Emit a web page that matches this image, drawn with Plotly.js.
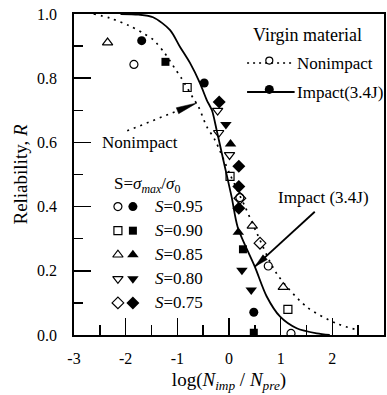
<!DOCTYPE html>
<html>
<head>
<meta charset="utf-8">
<script src="https://cdn.plot.ly/plotly-3.0.1.min.js"></script>
<style>html,body{margin:0;padding:0;background:#fff;}#chart{width:387px;height:395px;}</style>
</head>
<body>
<div id="chart"></div>
<script>
// ---- Data ----
// Fitted reliability curves (virgin material)
const nonimpactCurveX = [-2.62, -2.30, -1.95, -1.66, -1.46, -1.24, -1.05, -0.92, -0.69, -0.59, -0.43, -0.27, 0.02, 0.31, 0.54, 0.92, 1.50, 2.08, 2.50];
const nonimpactCurveY = [1.000, 0.987, 0.965, 0.940, 0.919, 0.877, 0.831, 0.800, 0.737, 0.711, 0.649, 0.607, 0.500, 0.400, 0.317, 0.192, 0.088, 0.036, 0.015];
const impactCurveX = [-2.10, -1.75, -1.47, -1.14, -0.95, -0.75, -0.56, -0.43, -0.33, -0.24, -0.11, 0.05, 0.17, 0.50, 0.73, 0.99, 1.31, 1.70, 1.95];
const impactCurveY = [1.000, 0.998, 0.990, 0.950, 0.898, 0.846, 0.784, 0.732, 0.700, 0.639, 0.545, 0.431, 0.335, 0.213, 0.120, 0.057, 0.021, 0.005, 0.000];

// Stress levels S
const sLevels = ['0.95', '0.90', '0.85', '0.80', '0.75'];

// Nonimpact (open symbols)
const open095X = [-1.84, 0.21, 0.76, 1.20];
const open095Y = [0.843, 0.428, 0.215, 0.005];
const open090X = [-0.81, 0.02, 1.14];
const open090Y = [0.771, 0.494, 0.080];
const open085X = [-2.35, 0.45, 1.05];
const open085Y = [0.911, 0.340, 0.149];
const open080X = [-0.22, -0.20, 0.01];
const open080Y = [0.699, 0.630, 0.561];
const open075X = [0.21, 0.60];
const open075Y = [0.426, 0.286];

// Impact 3.4 J (filled symbols)
const fill095X = [-1.69, -0.48, 0.48];
const fill095Y = [0.917, 0.785, 0.071];
const fill090X = [-1.23, 0.27, 0.48];
const fill090Y = [0.851, 0.267, 0.007];
const fill085X = [0.03, 0.18];
const fill085Y = [0.595, 0.320];
const fill080X = [-0.06, 0.25, 0.43];
const fill080Y = [0.656, 0.202, 0.140];
const fill075X = [-0.19, 0.19, 0.19, 0.19];
const fill075Y = [0.726, 0.526, 0.463, 0.395];

const xTickVals = [-3, -2, -1, 0, 1, 2, 3];
const xTickText = ['-3', '-2', '-1', '0', '1', '2', '3'];
const yTickVals = [0, 0.2, 0.4, 0.6, 0.8, 1.0];
const yTickText = ['0.0', '0.2', '0.4', '0.6', '0.8', '1.0'];

// ---- Styles / positions ----
const FONT = 'Liberation Serif, Times New Roman, serif';
const BLACK = '#000';
const symbols = ['circle', 'square', 'triangle-up', 'triangle-down', 'diamond'];
const openSets = [[open095X, open095Y], [open090X, open090Y], [open085X, open085Y], [open080X, open080Y], [open075X, open075Y]];
const fillSets = [[fill095X, fill095Y], [fill090X, fill090Y], [fill085X, fill085Y], [fill080X, fill080Y], [fill075X, fill075Y]];
const openSize = [8, 8, 9, 9, 9];
const fillSize = [9, 8, 10, 10, 10];

// legend placement (data coords)
const sLegOpenX = -2.15, sLegFillX = -1.86, sLegTextX = -1.47;
const sLegRowsY = [0.40, 0.325, 0.25, 0.175, 0.10];

const traces = [];
traces.push({x: nonimpactCurveX, y: nonimpactCurveY, mode: 'lines', hoverinfo: 'skip',
  line: {color: BLACK, width: 1.7, dash: '2px,5px', shape: 'spline', smoothing: 0.8}});
traces.push({x: impactCurveX, y: impactCurveY, mode: 'lines', hoverinfo: 'skip',
  line: {color: BLACK, width: 1.8, shape: 'spline', smoothing: 0.8}});

symbols.forEach((s, i) => {
  traces.push({x: openSets[i][0], y: openSets[i][1], mode: 'markers', hoverinfo: 'skip',
    marker: {symbol: s + '-open', size: openSize[i], color: BLACK, line: {width: 1.2, color: BLACK}}});
  traces.push({x: fillSets[i][0], y: fillSets[i][1], mode: 'markers', hoverinfo: 'skip',
    marker: {symbol: s, size: fillSize[i], color: BLACK, line: {width: 0}}});
  // legend samples
  traces.push({x: [sLegOpenX], y: [sLegRowsY[i]], mode: 'markers', hoverinfo: 'skip',
    marker: {symbol: s + '-open', size: openSize[i], color: BLACK, line: {width: 1.2, color: BLACK}}});
  traces.push({x: [sLegFillX], y: [sLegRowsY[i]], mode: 'markers', hoverinfo: 'skip',
    marker: {symbol: s, size: fillSize[i], color: BLACK, line: {width: 0}}});
});

// top-right legend samples
const vLegLineX0 = 0.35, vLegLineX1 = 1.22, vLegMarkX = 0.78, vLegTextX = 1.28;
const vLegRow1Y = 0.847, vLegRow2Y = 0.757;
traces.push({x: [vLegMarkX], y: [vLegRow1Y + 0.008], mode: 'markers', hoverinfo: 'skip',
  marker: {symbol: 'circle-open', size: 7, color: BLACK, line: {width: 1.2, color: BLACK}}});
traces.push({x: [vLegMarkX], y: [vLegRow2Y + 0.008], mode: 'markers', hoverinfo: 'skip',
  marker: {symbol: 'circle', size: 9, color: BLACK}});

// arrowhead wedge helper (data coords, pixel-sized)
const PX_X = 310 / 6, PX_Y = 321 / 1;
function wedge(tipX, tipY, fromX, fromY, len, halfW) {
  const dx = (tipX - fromX) * PX_X, dy = (tipY - fromY) * PX_Y;
  const d = Math.hypot(dx, dy), ux = dx / d, uy = dy / d;
  const bx = -ux * len, by = -uy * len;
  const px = -uy * halfW, py = ux * halfW;
  const p1 = [tipX + (bx + px) / PX_X, tipY + (by + py) / PX_Y];
  const p2 = [tipX + (bx - px) / PX_X, tipY + (by - py) / PX_Y];
  return {type: 'path', xref: 'x', yref: 'y', fillcolor: BLACK, line: {color: BLACK, width: 0.5},
    path: `M${tipX},${tipY} L${p1[0]},${p1[1]} L${p2[0]},${p2[1]} Z`};
}

const nonArrowTail = [-1.97, 0.636], nonArrowTip = [-0.62, 0.723];
const impArrowTail = [1.66, 0.384], impArrowTip = [0.50, 0.213];

const shapes = [
  {type: 'line', xref: 'x', yref: 'y', x0: vLegLineX0, x1: vLegLineX1, y0: vLegRow1Y, y1: vLegRow1Y,
   line: {color: BLACK, width: 1.5, dash: '2px,4px'}},
  {type: 'line', xref: 'x', yref: 'y', x0: vLegLineX0, x1: vLegLineX1 + 0.05, y0: vLegRow2Y, y1: vLegRow2Y,
   line: {color: BLACK, width: 1.8}},
  // dotted leader of the "Nonimpact" arrow
  {type: 'line', xref: 'x', yref: 'y', x0: nonArrowTail[0], y0: nonArrowTail[1], x1: -0.85, y1: 0.708,
   line: {color: BLACK, width: 1.6, dash: '2px,5px'}},
  wedge(nonArrowTip[0], nonArrowTip[1], nonArrowTail[0], nonArrowTail[1], 21, 3.2),
  // solid "Impact" arrow
  {type: 'line', xref: 'x', yref: 'y', x0: impArrowTail[0], y0: impArrowTail[1], x1: impArrowTip[0], y1: impArrowTip[1],
   line: {color: BLACK, width: 1.8}},
  wedge(impArrowTip[0], impArrowTip[1], impArrowTail[0], impArrowTail[1], 14, 3.2)
];

const annFont = {family: FONT, size: 17, color: BLACK};
const annotations = [
  {x: 0.42, y: 0.935, xref: 'x', yref: 'y', text: 'Virgin material', showarrow: false, xanchor: 'left', font: {family: FONT, size: 18, color: BLACK}},
  {x: vLegTextX, y: vLegRow1Y, xref: 'x', yref: 'y', text: 'Nonimpact', showarrow: false, xanchor: 'left', font: annFont},
  {x: vLegTextX, y: vLegRow2Y, xref: 'x', yref: 'y', text: 'Impact(3.4J)', showarrow: false, xanchor: 'left', font: annFont},
  {x: -1.58, y: 0.467, xref: 'x', yref: 'y', text: 'S=<i>σ</i><sub><i>max</i></sub>/<i>σ</i><sub>0</sub>', showarrow: false, font: annFont},
  {x: -1.72, y: 0.601, xref: 'x', yref: 'y', text: 'Nonimpact', showarrow: false, font: annFont},
  {x: 1.82, y: 0.427, xref: 'x', yref: 'y', text: 'Impact (3.4J)', showarrow: false, font: annFont}
];
sLevels.forEach((lv, i) => {
  annotations.push({x: sLegTextX, y: sLegRowsY[i], xref: 'x', yref: 'y', text: '<i>S</i>=' + lv,
    showarrow: false, xanchor: 'left', font: annFont});
});

const layout = {
  width: 387, height: 395,
  margin: {l: 74, r: 3, t: 14, b: 60},
  paper_bgcolor: '#fff', plot_bgcolor: '#fff',
  showlegend: false,
  font: {family: FONT, color: BLACK},
  xaxis: {
    range: [-3, 3], tickvals: xTickVals, ticktext: xTickText,
    ticks: 'inside', ticklen: 17, tickwidth: 1.5, tickcolor: BLACK,
    showline: true, mirror: true, linewidth: 1.8, linecolor: BLACK,
    showgrid: false, zeroline: false, ticklabelstandoff: 8,
    minor: {dtick: 0.5, tick0: -3, ticks: 'inside', ticklen: 10, tickwidth: 1.5, tickcolor: BLACK, showgrid: false},
    tickfont: {family: FONT, size: 16, color: BLACK},
    title: {text: 'log(<i>N</i><sub><i>imp</i></sub> / <i>N</i><sub><i>pre</i></sub>)', font: {family: FONT, size: 19, color: BLACK}, standoff: 7}
  },
  yaxis: {
    range: [0, 1], tickvals: yTickVals, ticktext: yTickText,
    ticks: 'inside', ticklen: 17, tickwidth: 1.5, tickcolor: BLACK,
    showline: true, mirror: true, linewidth: 1.8, linecolor: BLACK,
    showgrid: false, zeroline: false, ticklabelstandoff: 12,
    minor: {dtick: 0.1, tick0: 0, ticks: 'inside', ticklen: 9, tickwidth: 1.5, tickcolor: BLACK, showgrid: false},
    tickfont: {family: FONT, size: 16, color: BLACK},
    title: {text: 'Reliability, <i>R</i>', font: {family: FONT, size: 19, color: BLACK}, standoff: 4}
  },
  shapes: shapes,
  annotations: annotations
};

Plotly.newPlot('chart', traces, layout, {displayModeBar: false, staticPlot: true});
</script>
</body>
</html>
